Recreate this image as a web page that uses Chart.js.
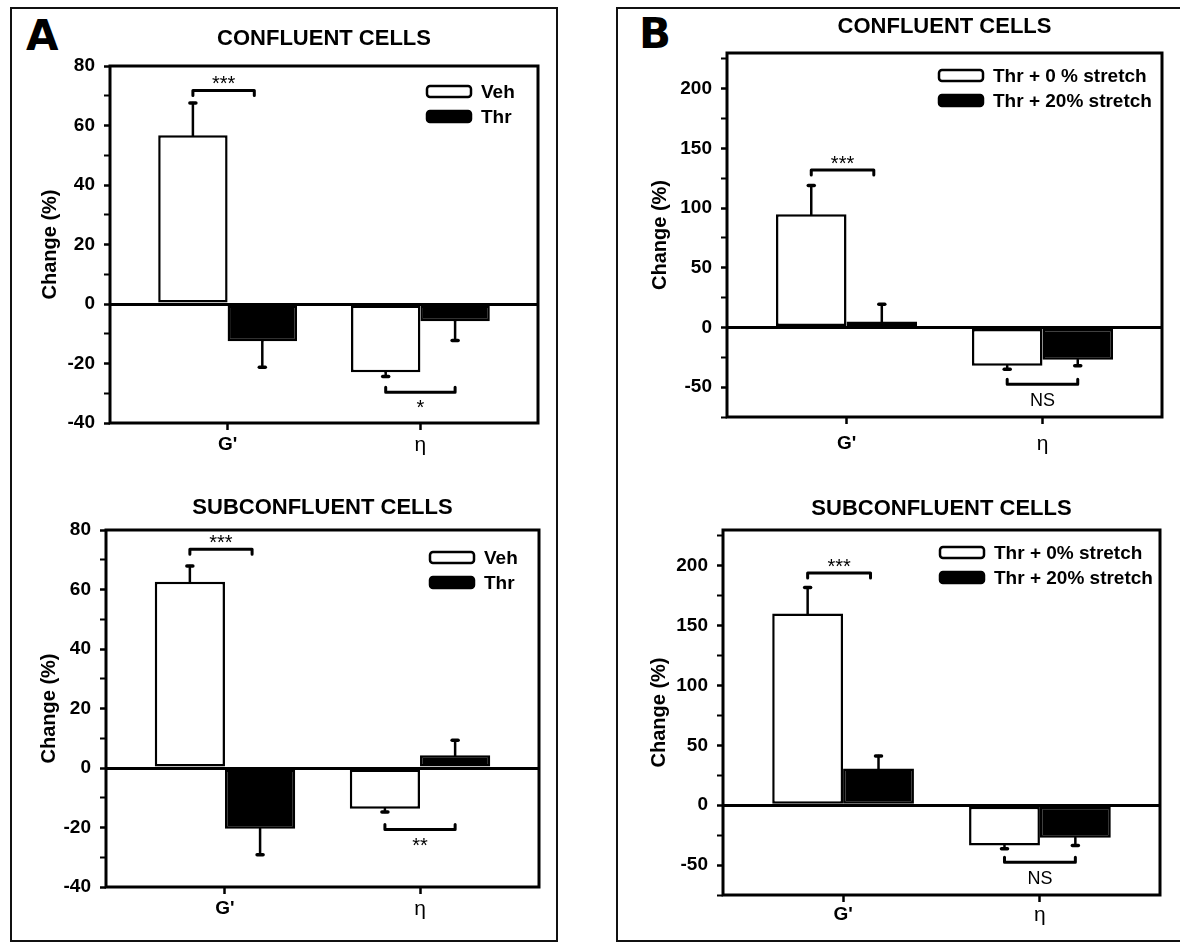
<!DOCTYPE html>
<html>
<head>
<meta charset="utf-8">
<script src="https://cdn.jsdelivr.net/npm/chart.js@4.4.1/dist/chart.umd.min.js"></script>
<style>
body { margin: 0; background: #fff; width: 1180px; height: 943px; position: relative; overflow: hidden; }
.panel { position: absolute; border: 2px solid #111; box-sizing: border-box; }
.letter { position: absolute; font: 900 42px "DejaVu Sans", sans-serif; line-height: 1; color: #000; }
canvas { position: absolute; }
</style>
</head>
<body>
<div class="panel" style="left:10px;top:7px;width:548px;height:935px"></div>
<div class="panel" style="left:616px;top:7px;width:600px;height:935px"></div>
<div class="letter" style="left:26px;top:15px">A</div>
<div class="letter" style="left:639px;top:13px">B</div>
<canvas id="aTop"></canvas>
<canvas id="aBottom"></canvas>
<canvas id="bTop"></canvas>
<canvas id="bBottom"></canvas>
<script>
const categories = ["G'", "η"];
const yLabelsA = [-40, -20, 0, 20, 40, 60, 80];
const yLabelsB = [-50, 0, 50, 100, 150, 200];

const legendA = ['Veh', 'Thr'];
const legendBConf = ['Thr + 0 % stretch', 'Thr + 20% stretch'];
const legendBSub = ['Thr + 0% stretch', 'Thr + 20% stretch'];

// A - confluent
const confVeh = [56.7, -22.9];
const confVehErr = [10.9, 1.5];
const confThr = [-12.5, -5.8];
const confThrErr = [8.8, 6.5];
const confSigA = [{cat: 0, y: 71.8, text: '***'}, {cat: 1, y: -29.7, text: '*'}];

// A - subconfluent
const subVeh = [62.6, -13.7];
const subVehErr = [5.3, 1.1];
const subThr = [-20.4, 4.3];
const subThrErr = [8.8, 5.0];
const subSigA = [{cat: 0, y: 73.5, text: '***'}, {cat: 1, y: -20.7, text: '**'}];

// B - confluent
const confStretch0 = [94.8, -32.1];
const confStretch0Err = [24.2, 2.8];
const confStretch20 = [5.0, -27.1];
const confStretch20Err = [14.5, 5.0];
const confSigB = [{cat: 0, y: 131.9, text: '***'}, {cat: 1, y: -47.5, text: 'NS'}];

// B - subconfluent
const subStretch0 = [160.2, -33.6];
const subStretch0Err = [21.8, 2.8];
const subStretch20 = [30.8, -27.2];
const subStretch20Err = [10.4, 6.4];
const subSigB = [{cat: 0, y: 194, text: '***'}, {cat: 1, y: -47.6, text: 'NS'}];

const FAM = '"Liberation Sans", Arial, sans-serif';

function extras(opt) {
    return {
        id: 'extras',
        afterDatasetsDraw(chart) {
            const ctx = chart.ctx;
            const ys = chart.scales.y;
            ctx.save();
            ctx.strokeStyle = '#000';
            ctx.lineCap = 'round';
            // error bars, one side only (away from zero)
            chart.data.datasets.forEach((ds, i) => {
                chart.getDatasetMeta(i).data.forEach((bar, j) => {
                    const v = ds.data[j].y;
                    const end = ys.getPixelForValue(v + Math.sign(v) * ds.errors[j]);
                    ctx.lineWidth = 2.5;
                    ctx.beginPath();
                    ctx.moveTo(bar.x, bar.y);
                    ctx.lineTo(bar.x, end);
                    ctx.stroke();
                    ctx.lineWidth = 3.5;
                    ctx.beginPath();
                    ctx.moveTo(bar.x - 3, end);
                    ctx.lineTo(bar.x + 3, end);
                    ctx.stroke();
                });
            });
            // significance brackets
            const m0 = chart.getDatasetMeta(0), m1 = chart.getDatasetMeta(1);
            opt.sig.forEach(s => {
                const x1 = m0.data[s.cat].x;
                const x2 = m1.data[s.cat].x - (s.cat === 0 ? 8 : 0);
                const y = ys.getPixelForValue(s.y);
                const above = s.y > 0;
                const leg = above ? 5 : -5;
                ctx.lineWidth = 3;
                ctx.lineJoin = 'round';
                ctx.beginPath();
                ctx.moveTo(x1, y + leg);
                ctx.lineTo(x1, y);
                ctx.lineTo(x2, y);
                ctx.lineTo(x2, y + leg);
                ctx.stroke();
                ctx.fillStyle = '#000';
                ctx.textAlign = 'center';
                ctx.textBaseline = 'alphabetic';
                ctx.font = (s.text === 'NS' ? '18px ' : '20px ') + FAM;
                ctx.fillText(s.text, (x1 + x2) / 2, above ? y : y + 22);
            });
            ctx.restore();
        },
        afterDraw(chart) {
            const ctx = chart.ctx;
            const a = chart.chartArea;
            ctx.save();
            ctx.strokeStyle = '#000';
            ctx.lineWidth = 3;
            ctx.strokeRect(a.left, a.top, a.right - a.left, a.bottom - a.top);
            // legend
            const lx = a.right - opt.legDx;
            opt.legend.forEach((txt, i) => {
                const ly = a.top + opt.legDy + i * 25;
                ctx.lineWidth = 2.5;
                ctx.fillStyle = i === 0 ? '#fff' : '#000';
                ctx.beginPath();
                ctx.roundRect(lx, ly, 44, 11, 3);
                ctx.fill();
                ctx.stroke();
                ctx.fillStyle = '#000';
                ctx.font = 'bold 19px ' + FAM;
                ctx.textAlign = 'left';
                ctx.textBaseline = 'middle';
                ctx.fillText(txt, lx + 54, ly + 6.5);
            });
            ctx.restore();
        }
    };
}

function buildChart(id, box, area, opt) {
    const canvas = document.getElementById(id);
    canvas.width = box.w;
    canvas.height = box.h;
    canvas.style.left = box.x + 'px';
    canvas.style.top = box.y + 'px';
    const titleLh = 22 * 1.2;
    const yTitleLh = 20 * 1.2;
    const padL = opt.yTitleX - box.x - yTitleLh / 2;
    const titleTop = opt.titleY - box.y - titleLh / 2;
    const barStyle = {borderColor: '#000', borderWidth: 2.5, borderSkipped: false, categoryPercentage: 0.72, barPercentage: 1};

    new Chart(canvas, {
        type: 'bar',
        data: {
            datasets: [
                Object.assign({label: opt.legend[0], data: opt.first.map((v, i) => ({x: i + 1, y: v})), errors: opt.firstErr, backgroundColor: '#fff'}, barStyle),
                Object.assign({label: opt.legend[1], data: opt.second.map((v, i) => ({x: i + 1, y: v})), errors: opt.secondErr, backgroundColor: '#000'}, barStyle)
            ]
        },
        options: {
            responsive: false,
            animation: false,
            devicePixelRatio: 1,
            layout: {padding: {left: padL, right: box.x + box.w - area.r, top: 0, bottom: 0}},
            plugins: {
                legend: {display: false},
                tooltip: {enabled: false},
                title: {
                    display: true,
                    text: opt.title,
                    fullSize: false,
                    color: '#000',
                    font: {family: FAM, size: 22, weight: 'bold'},
                    padding: {top: titleTop, bottom: area.t - box.y - titleTop - titleLh}
                }
            },
            scales: {
                x: {
                    type: 'linear',
                    offset: false,
                    min: 0.39,
                    max: 2.61,
                    afterBuildTicks: s => { s.ticks = categories.map((c, i) => ({value: i + 1})); },
                    afterFit: s => { s.height = box.y + box.h - area.b; },
                    border: {display: false},
                    grid: {offset: false, drawOnChartArea: false, tickLength: 7, tickWidth: 2.5, tickColor: '#000'},
                    ticks: {
                        autoSkip: false,
                        maxRotation: 0,
                        color: '#000',
                        padding: opt.xPad,
                        callback: v => categories[v - 1] || '',
                        font: c => c.index === 0 ? {family: FAM, size: 19, weight: 'bold'} : {family: FAM, size: 21}
                    }
                },
                y: {
                    min: opt.min,
                    max: opt.max,
                    afterFit: s => { s.width = area.l - box.x - padL; },
                    border: {display: false},
                    grid: {
                        color: c => (c.tick && c.tick.value === 0) ? '#000' : 'rgba(0,0,0,0)',
                        lineWidth: c => (c.tick && c.tick.value === 0) ? 3 : 1,
                        tickLength: 6,
                        tickColor: '#000',
                        tickWidth: c => (c.tick && opt.yLabels.includes(c.tick.value)) ? 2.5 : 2
                    },
                    ticks: {
                        stepSize: opt.step,
                        includeBounds: false,
                        autoSkip: false,
                        maxTicksLimit: 100,
                        padding: 9,
                        color: '#000',
                        font: {family: FAM, size: 19, weight: 'bold'},
                        callback: v => opt.yLabels.includes(v) ? v : ''
                    },
                    title: {
                        display: true,
                        text: 'Change (%)',
                        color: '#000',
                        padding: 0,
                        font: {family: FAM, size: 20, weight: 'bold'}
                    }
                }
            }
        },
        plugins: [extras(opt)]
    });
}

buildChart('aTop', {x: 12, y: 9, w: 542, h: 455}, {l: 110, t: 66, r: 538, b: 423}, {
    title: 'CONFLUENT CELLS', titleY: 39, yTitleX: 50, xPad: 3,
    min: -40, max: 80, step: 10, yLabels: yLabelsA,
    legend: legendA, legDx: 111, legDy: 20,
    first: confVeh, firstErr: confVehErr, second: confThr, secondErr: confThrErr, sig: confSigA
});

buildChart('aBottom', {x: 12, y: 470, w: 542, h: 465}, {l: 106, t: 530, r: 539, b: 887}, {
    title: 'SUBCONFLUENT CELLS', titleY: 508, yTitleX: 49, xPad: 3,
    min: -40, max: 80, step: 10, yLabels: yLabelsA,
    legend: legendA, legDx: 109, legDy: 22,
    first: subVeh, firstErr: subVehErr, second: subThr, secondErr: subThrErr, sig: subSigA
});

buildChart('bTop', {x: 620, y: 9, w: 558, h: 455}, {l: 727, t: 53, r: 1162, b: 417}, {
    title: 'CONFLUENT CELLS', titleY: 27, yTitleX: 660, xPad: 8,
    min: -75, max: 230, step: 25, yLabels: yLabelsB,
    legend: legendBConf, legDx: 223, legDy: 17,
    first: confStretch0, firstErr: confStretch0Err, second: confStretch20, secondErr: confStretch20Err, sig: confSigB
});

buildChart('bBottom', {x: 620, y: 470, w: 558, h: 470}, {l: 723, t: 530, r: 1160, b: 895}, {
    title: 'SUBCONFLUENT CELLS', titleY: 509, yTitleX: 659, xPad: 1,
    min: -75, max: 230, step: 25, yLabels: yLabelsB,
    legend: legendBSub, legDx: 220, legDy: 17,
    first: subStretch0, firstErr: subStretch0Err, second: subStretch20, secondErr: subStretch20Err, sig: subSigB
});
</script>
</body>
</html>
